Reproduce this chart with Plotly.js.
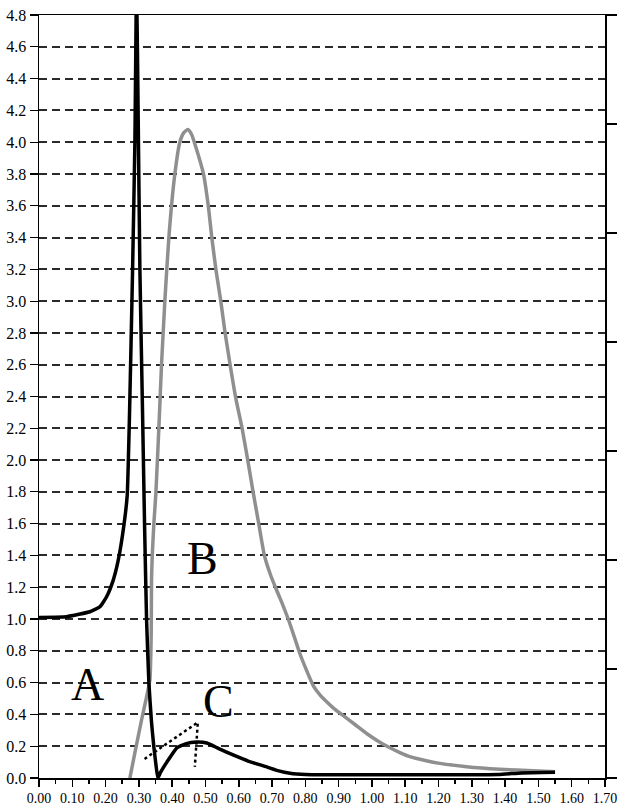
<!DOCTYPE html>
<html>
<head>
<meta charset="utf-8">
<script src="https://cdn.plot.ly/plotly-3.0.1.min.js"></script>
<style>html,body{margin:0;padding:0;background:#fff;}#chart{width:622px;height:805px;}</style>
</head>
<body>
<div id="chart"></div>
<script>
// Curve A (black)
var curveAx = [0.00,0.05,0.083,0.12,0.153,0.183,0.203,0.223,0.238,0.255,0.265,0.272,0.281,0.288,0.293,0.298,0.303,0.311,0.317,0.323,0.330,0.338,0.345,0.352,0.357,0.365,0.384,0.414,0.44,0.474,0.504,0.54,0.583,0.63,0.684,0.72,0.754,0.80,0.90,1.00,1.20,1.38,1.45,1.55];
var curveAy = [1.01,1.012,1.015,1.03,1.046,1.077,1.14,1.245,1.37,1.59,1.78,2.3,3.19,4.0,5.0,4.14,3.2,2.3,1.6,1.0,0.6,0.35,0.195,0.07,0.0,0.035,0.1,0.19,0.215,0.226,0.22,0.185,0.145,0.105,0.07,0.045,0.03,0.022,0.02,0.02,0.02,0.022,0.032,0.036];
// Curve B (grey)
var curveBx = [0.273,0.29,0.308,0.322,0.333,0.337,0.338,0.340,0.345,0.351,0.361,0.368,0.378,0.39,0.408,0.423,0.435,0.447,0.458,0.471,0.494,0.509,0.519,0.532,0.546,0.559,0.574,0.591,0.61,0.627,0.643,0.66,0.677,0.695,0.71,0.73,0.752,0.784,0.805,0.824,0.845,0.864,0.89,0.919,0.95,0.984,1.02,1.054,1.084,1.114,1.16,1.204,1.284,1.384,1.484,1.55];
var curveBy = [0.0,0.18,0.365,0.5,0.616,0.9,1.245,1.39,1.6,1.79,2.25,2.6,3.0,3.4,3.8,4.0,4.06,4.08,4.05,3.97,3.8,3.59,3.4,3.19,3.0,2.8,2.6,2.39,2.2,2.0,1.8,1.6,1.4,1.28,1.2,1.1,0.98,0.78,0.67,0.58,0.52,0.48,0.43,0.385,0.335,0.28,0.23,0.19,0.16,0.134,0.11,0.092,0.071,0.055,0.046,0.04];
// Dotted construction near C
var dotX = [0.317,0.477,0.468];
var dotY = [0.12,0.35,0.07];
// Labels
var labelText = ["A","B","C"];
var labelX = [0.147,0.49,0.54];
var labelY = [0.59,1.38,0.48];
// Right-hand axis (unlabelled ticks)
var rightRange = [0,7];
var rightDtick = 1;

var serif = "Liberation Serif";

var traces = [
  {x: curveBx, y: curveBy, type:'scatter', mode:'lines', line:{color:'#8f8f8f', width:3.5, shape:'spline', smoothing:0.5}, hoverinfo:'skip', showlegend:false},
  {x: curveAx, y: curveAy, type:'scatter', mode:'lines', line:{color:'#000', width:3.5, shape:'spline', smoothing:0.4}, hoverinfo:'skip', showlegend:false},
  {x: dotX, y: dotY, type:'scatter', mode:'lines', line:{color:'#000', width:2.5, dash:'dot'}, hoverinfo:'skip', showlegend:false},
  {x: [null], y: [null], yaxis:'y2', type:'scatter', mode:'lines', hoverinfo:'skip', showlegend:false}
];

var annotations = labelText.map(function(t,i){
  return {text:t, x:labelX[i], y:labelY[i], xref:'x', yref:'y', showarrow:false, xanchor:'center', yanchor:'middle', font:{family:serif, size:46, color:'#000'}};
});

var layout = {
  width:622, height:805,
  font:{family:serif, color:'#000', size:15},
  margin:{l:39, r:17, t:15, b:27, pad:0},
  paper_bgcolor:'#fff', plot_bgcolor:'#fff',
  showlegend:false,
  xaxis:{range:[0,1.7], tickmode:'linear', tick0:0, dtick:0.1, tickformat:'.2f', ticks:'outside', ticklen:7, tickwidth:1.5, tickcolor:'#000',
    showgrid:false, zeroline:false, showline:true, linecolor:'#000', linewidth:1.5, mirror:true, tickangle:0, automargin:false,
    tickfont:{family:serif, size:14, color:'#000'},
    minor:{dtick:0.05, ticks:'outside', ticklen:4, tickwidth:1.5, tickcolor:'#000', showgrid:false}},
  yaxis:{range:[0,4.8], tickmode:'linear', tick0:0, dtick:0.2, tickformat:'.1f', ticks:'outside', ticklen:8, tickwidth:1.2, tickcolor:'#000',
    showgrid:true, gridcolor:'#2a2a2a', gridwidth:2, griddash:'8px,5px', zeroline:false, showline:true, linecolor:'#000', linewidth:1.5, automargin:false,
    tickfont:{family:serif, size:16, color:'#000'}},
  yaxis2:{range:rightRange, overlaying:'y', side:'right', tickmode:'linear', tick0:0, dtick:rightDtick, ticks:'outside', ticklen:10, tickwidth:1.3, tickcolor:'#000',
    showticklabels:false, showgrid:false, zeroline:false, showline:true, linecolor:'#000', linewidth:1.5, automargin:false},
  annotations: annotations
};

Plotly.newPlot('chart', traces, layout, {staticPlot:true, displayModeBar:false});
</script>
</body>
</html>
